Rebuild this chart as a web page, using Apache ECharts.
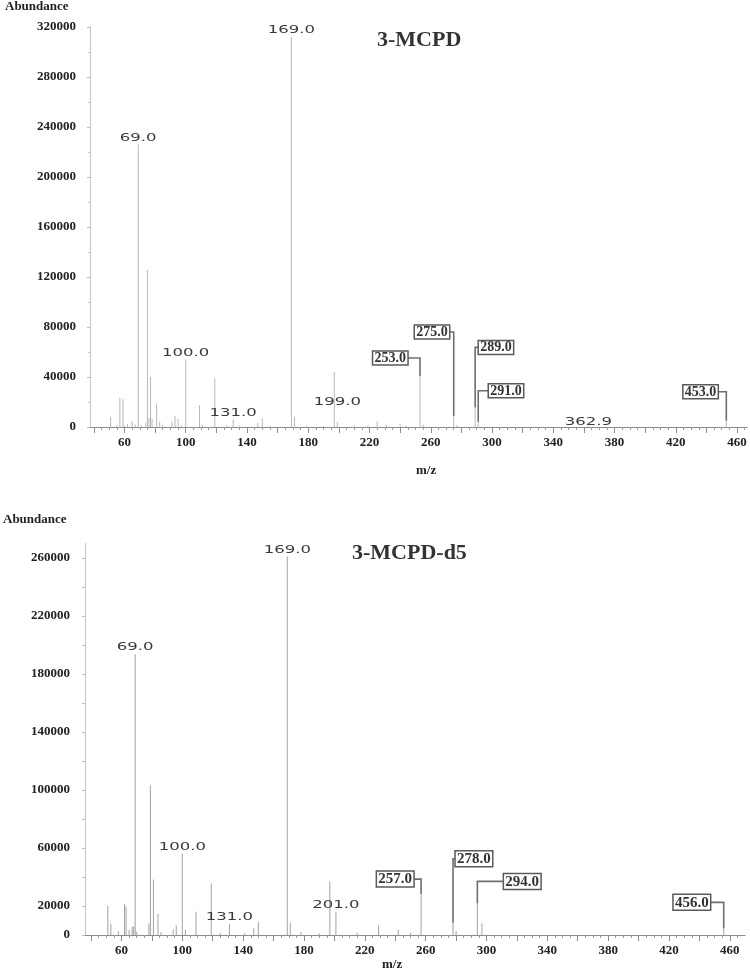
<!DOCTYPE html>
<html><head><meta charset="utf-8">
<script src="https://cdn.jsdelivr.net/npm/echarts@6/dist/echarts.min.js"></script>
<style>html,body{margin:0;padding:0;background:#fff}#c{width:750px;height:980px}</style>
</head><body><div id="c"></div>
<script>
// ---- data ----
const xTickLabels = [60, 100, 140, 180, 220, 260, 300, 340, 380, 420, 460];
const topYTickLabels = [0, 40000, 80000, 120000, 160000, 200000, 240000, 280000, 320000];
const bottomYTickLabels = [0, 20000, 60000, 100000, 140000, 180000, 220000, 260000];

const mcpdMz = [51,55,57,59,60,62,65,67,69,71,74,75,76,77,78,81,83,85,91,93,95,97,100,109,111,119,127,131,135,147,150,155,169,171,179,190,197,199,210,219,225,231,240,244,253,255,275,277,289,291,362.9,453];
const mcpdAbundance = [8200,1600,23400,22400,1000,2400,4800,2000,226000,1600,3400,125600,7200,40000,6400,19000,4200,1600,4200,8800,6400,1600,54000,17600,1600,39000,1500,6000,1200,3200,7000,1000,312000,8200,1000,800,44000,4000,1200,1500,4500,1800,2500,1200,40800,2000,8800,1500,15700,4200,700,5000];

const d5Mz = [51,53,58,62,63,65,67,68,69,70,78,79,81,84,86,94,96,100,102,109,119,125,131,141,147,150,169,171,178,190,197,201,215,229,242,250,257,278,280,294,297,456];
const d5Abundance = [20000,7800,2500,21300,19700,3500,5500,6000,193700,2300,8000,103200,38300,14400,2000,3900,6800,56200,3400,16000,35500,1500,7500,1200,4600,9000,261000,8500,2000,1200,37100,16000,1500,6500,3400,1500,28200,8500,3000,21800,8000,4600];

const mcpdPeakLabels = [69, 100, 131, 169, 199, 362.9];
const mcpdBoxLabels = [253, 275, 289, 291, 453];
const d5PeakLabels = [69, 100, 131, 169, 201];
const d5BoxLabels = [257, 278, 294, 456];

// ---- layout (label offsets in px relative to peak top) ----
const peakLabelShift = [{199: -13, 362.9: 3}, {}];
const boxLayout = [
  {253: [-12, -18], 275: [-4, -84], 289: [3, -60], 291: [10, -31], 453: [-8, -29]},
  {257: [-7, -15], 278: [2, -64], 294: [26, -22], 456: [-13, -26]}
];

const SERIF = '"Liberation Serif","Times New Roman",serif';
const measureCtx = document.createElement('canvas').getContext('2d');
function textWidth(t, font) { measureCtx.font = font; return measureCtx.measureText(t).width; }

function range(a, b, s) { const r = []; for (let v = a; v <= b; v += s) r.push(v); return r; }

function pairs(mz, ab) { return mz.map((m, i) => [m, ab[i]]); }
function lookup(mz, ab, m) { return ab[mz.indexOf(m)]; }

function peakSeries(g, mz, ab, color) {
  return {
    type: 'bar', xAxisIndex: g * 2, yAxisIndex: g, barWidth: 1,
    itemStyle: { color: color }, data: pairs(mz, ab), silent: true, z: 2
  };
}

function peakLabelSeries(g, labels, mz, ab) {
  const shift = peakLabelShift[g];
  return {
    type: 'custom', xAxisIndex: g * 2, yAxisIndex: g, silent: true, z: 6,
    data: labels.map(m => [m, lookup(mz, ab, m)]),
    renderItem: function (params, api) {
      const m = api.value(0);
      const p = api.coord([m, api.value(1)]);
      const dy = shift[m] || 0;
      return {
        type: 'text', x: p[0], y: p[1] - 1 + dy, scaleX: 1.5,
        style: {
          text: m.toFixed(1), font: '11px "DejaVu Sans",sans-serif', fill: '#3a3a3a',
          textAlign: 'center', textVerticalAlign: 'bottom'
        }
      };
    }
  };
}

function boxLabelSeries(g, labels, mz, ab, boxH, fontSize) {
  const lay = boxLayout[g];
  const font = 'bold ' + fontSize + 'px ' + SERIF;
  return {
    type: 'custom', xAxisIndex: g * 2, yAxisIndex: g, silent: true, z: 7,
    data: labels.map(m => [m, lookup(mz, ab, m)]),
    renderItem: function (params, api) {
      const m = api.value(0);
      const p = api.coord([m, api.value(1)]);
      const L = lay[m];
      const bx = p[0] + L[0], by = p[1] + L[1];
      const txt = m.toFixed(1);
      const w = textWidth(txt, font) + 4;
      const left = L[0] < 0 ? bx - w : bx;
      return {
        type: 'group', children: [
          { type: 'polyline', shape: { points: [[p[0], p[1]], [p[0], by], [bx, by]] },
            style: { stroke: '#6e6e6e', lineWidth: 1.6, fill: null } },
          { type: 'rect', shape: { x: left, y: by - boxH / 2, width: w, height: boxH },
            style: { fill: '#fff', stroke: '#5a5a5a', lineWidth: 1.5 } },
          { type: 'text', x: left + w / 2, y: by + 0.5,
            style: { text: txt, font: font, fill: '#333', textAlign: 'center', textVerticalAlign: 'middle' } }
        ]
      };
    }
  };
}

const labelStyle = { fontFamily: SERIF, fontWeight: 'bold', fontSize: 13, color: '#222' };
const plainNum = function (v) { return String(v); };

function xAxes(g, min, max) {
  return [
    { type: 'value', gridIndex: g, min: min, max: max, splitLine: { show: false },
      axisLine: { show: true, lineStyle: { color: '#8c8c8c', width: 1 } },
      axisTick: { show: true, length: 3, customValues: range(40, 465, 5), lineStyle: { color: '#9a9a9a' } },
      axisLabel: Object.assign({ customValues: xTickLabels, margin: 9, formatter: plainNum }, labelStyle) },
    { type: 'value', gridIndex: g, min: min, max: max, position: 'bottom', splitLine: { show: false },
      axisLine: { show: false },
      axisTick: { show: true, length: 6, customValues: range(40, 460, 20), lineStyle: { color: '#8c8c8c' } },
      axisLabel: { show: false } }
  ];
}

const chart = echarts.init(document.getElementById('c'), null, { renderer: 'canvas' });
chart.setOption({
  animation: false,
  backgroundColor: '#fff',
  grid: [
    { left: 90, width: 657, top: 27, height: 400 },
    { left: 85, width: 660, top: 543.5, height: 391.5 }
  ],
  xAxis: [].concat(xAxes(0, 37.5, 466.5), xAxes(1, 36, 470)),
  yAxis: [
    { type: 'value', gridIndex: 0, min: 0, max: 320000, interval: 40000, splitLine: { show: false },
      axisLine: { show: true, lineStyle: { color: '#c4c4c4' } },
      axisTick: { show: true, length: 3, lineStyle: { color: '#bbb' } },
      minorTick: { show: true, splitNumber: 2, length: 2, lineStyle: { color: '#ccc' } },
      axisLabel: Object.assign({ margin: 14, customValues: topYTickLabels, formatter: plainNum }, labelStyle) },
    { type: 'value', gridIndex: 1, min: 0, max: 270000, splitLine: { show: false },
      axisLine: { show: true, lineStyle: { color: '#c4c4c4' } },
      axisTick: { show: true, length: 3, customValues: range(0, 260000, 20000), lineStyle: { color: '#bbb' } },
      axisLabel: Object.assign({ margin: 15, customValues: bottomYTickLabels, formatter: plainNum }, labelStyle) }
  ],
  graphic: [
    { type: 'text', left: 5, top: 0, style: { text: 'Abundance', font: 'bold 13px ' + SERIF, fill: '#222' } },
    { type: 'text', left: 377, top: 29, style: { text: '3-MCPD', font: 'bold 22px ' + SERIF, fill: '#333' } },
    { type: 'text', left: 416, top: 464, style: { text: 'm/z', font: 'bold 13px ' + SERIF, fill: '#222' } },
    { type: 'text', left: 3, top: 513, style: { text: 'Abundance', font: 'bold 13px ' + SERIF, fill: '#222' } },
    { type: 'text', left: 352, top: 542, style: { text: '3-MCPD-d5', font: 'bold 22px ' + SERIF, fill: '#333' } },
    { type: 'text', left: 382, top: 958, style: { text: 'm/z', font: 'bold 13px ' + SERIF, fill: '#222' } }
  ],
  series: [
    peakSeries(0, mcpdMz, mcpdAbundance, '#b8b8b8'),
    peakLabelSeries(0, mcpdPeakLabels, mcpdMz, mcpdAbundance),
    boxLabelSeries(0, mcpdBoxLabels, mcpdMz, mcpdAbundance, 14, 14),
    peakSeries(1, d5Mz, d5Abundance, '#a2a2a2'),
    peakLabelSeries(1, d5PeakLabels, d5Mz, d5Abundance),
    boxLabelSeries(1, d5BoxLabels, d5Mz, d5Abundance, 16, 15)
  ]
});
</script></body></html>
